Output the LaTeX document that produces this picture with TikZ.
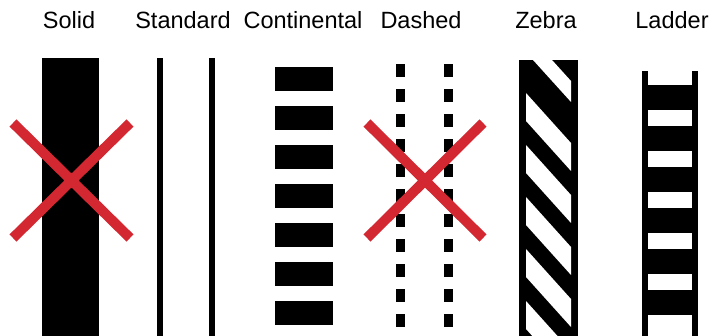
\documentclass[tikz,border=0pt]{standalone}
\usepackage{fontspec}
\setmainfont{Liberation Sans}
\usepackage{xcolor}
\usepackage{tikz}
\usetikzlibrary{positioning}
\definecolor{crossred}{RGB}{211,39,49}

\begin{document}
\begin{tikzpicture}[x=1pt, y=-1pt, lbl/.style={font=\fontsize{23.5}{28}\selectfont,
  anchor=base, inner sep=0pt}, cross/.style={draw=crossred, line width=10pt}]
  \useasboundingbox (0,0) rectangle (711,336);
  \node[lbl] (solid) at (69,29) {Solid};
  \node[lbl] (standard) at (183,29) {Standard};
  \node[lbl] (continental) at (303,29) {Continental};
  \node[lbl] (dashed) at (421,29) {Dashed};
  \node[lbl] (zebra) at (546,29) {Zebra};
  \node[lbl] (ladder) at (672,29) {Ladder};
  % solid and standard
  \fill (42,58) rectangle (99,336);
  \fill (157,58) rectangle (163,336);
  \fill (209,58) rectangle (215,336);
  % continental
  \foreach \y in {67,106,...,301} \fill (275,\y) rectangle +(58,24);
  % dashed
  \foreach \y in {64,89,...,314} {
    \fill (396,\y) rectangle +(9,13);
    \fill (444,\y) rectangle +(9,13);
  }
  % zebra
  \fill (519,60) rectangle (578,336);
  \begin{scope}
    \clip (526,60) rectangle (571,336);
    \fill[white] (533,60) -- (552,60) -- (571,81) -- (571,102) -- cycle;
    \foreach \y in {93,145,...,301}
      \fill[white] (526,\y) -- (571,\y+50) -- (571,\y+78) -- (526,\y+28) -- cycle;
  \end{scope}
  % ladder
  \fill (642,71) rectangle (648,336);
  \fill (692,71) rectangle (698,336);
  \foreach \y in {85,126,...,290} \fill (648,\y) rectangle +(44,25);
  % crossed out
  \draw[cross] (13,123) -- (130,238) (130,123) -- (13,238);
  \draw[cross] (367,123) -- (483,238) (483,123) -- (367,238);
\end{tikzpicture}
\end{document}
